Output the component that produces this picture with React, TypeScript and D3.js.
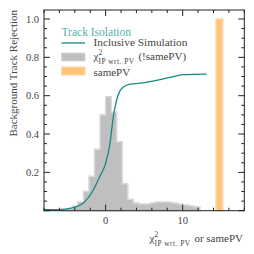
import React from "react";
import * as d3 from "d3";

const binWidth = 0.72;
const binStartIndex = -8;
const histValues = [
  0.006, 0.01, 0.025, 0.045, 0.1, 0.18, 0.32, 0.5, 0.595, 0.515, 0.36, 0.14, 0.06,
  0.04, 0.035, 0.035, 0.04, 0.045, 0.045, 0.045, 0.04, 0.035, 0.03, 0.025, 0.02,
];
const samePVBin = [14.33, 15.2];
const samePVValue = 1.0;
const curveX = [-8, -6, -5, -4.2, -2.9, -1.6, -0.74, 0, 0.56, 1.0, 1.43, 1.86, 2.3, 3.2, 4.45, 6.6, 8.8, 10.1, 13.1];
const curveY = [0.005, 0.006, 0.01, 0.016, 0.04, 0.108, 0.18, 0.247, 0.35, 0.49, 0.578, 0.625, 0.645, 0.66, 0.665, 0.68, 0.7, 0.71, 0.713];
const xMajor = [0, 10];
const xMinorStep = 2;
const yMajor = [0, 0.2, 0.4, 0.6, 0.8, 1.0];
const yLabels = ["", "0.2", "0.4", "0.6", "0.8", "1.0"];
const yMinorStep = 0.05;

const FONT = "'Liberation Serif', 'DejaVu Serif', serif";
const TEXT = "#444";

function ChiLabel({ x, y, suffix, anchor }: { x: number; y: number; suffix: string; anchor?: string }) {
  return (
    <text x={x} y={y} fontSize={11} textAnchor={anchor || "start"} fill={TEXT}>
      <tspan>χ</tspan>
      <tspan fontSize={7.5} dy={-5}>2</tspan>
      <tspan fontSize={7.5} dx={-3.6} dy={8.5} letterSpacing={0.45}>IP wrt. PV</tspan>
      <tspan dy={-3.5} dx={1}>{suffix}</tspan>
    </text>
  );
}

export default function App() {
  const L = 44, R = 244.3, T = 10, B = 210.7;
  const x = d3.scaleLinear().domain([-8, 18]).range([L, R]);
  const y = d3.scaleLinear().domain([0, 1.047]).range([B, T]);

  const pts: [number, number][] = [];
  histValues.forEach((v, i) => {
    const x0 = (binStartIndex + i) * binWidth;
    const x1 = x0 + binWidth;
    pts.push([x0, v], [x1, v]);
  });
  const area = d3
    .area<[number, number]>()
    .x((d) => x(d[0]))
    .y0(y(0))
    .y1((d) => y(d[1]));
  const histPath = area(pts);

  const line = d3
    .line<number>()
    .x((_, i) => x(curveX[i]))
    .y((d) => y(d))
    .curve(d3.curveMonotoneX);
  const curvePath = line(curveY);

  const xMinor = d3.range(-8, 18.01, xMinorStep).filter((v) => !xMajor.includes(v));
  const yMinor = d3
    .range(0, 1.05, yMinorStep)
    .map((v) => +v.toFixed(2))
    .filter((v) => !yMajor.some((m) => Math.abs(m - v) < 1e-6));

  const maj = 6, mn = 3;

  return (
    <svg width={254} height={254} style={{ position: "absolute", left: 0, top: 0 }} fontFamily={FONT}>
      <rect width={254} height={254} fill="white" />
      <path d={histPath || ""} fill="#bfbfbf" stroke="#d9d9d9" strokeWidth={1.5} />
      <rect
        x={x(samePVBin[0])}
        y={y(samePVValue)}
        width={x(samePVBin[1]) - x(samePVBin[0])}
        height={y(0) - y(samePVValue)}
        fill="#ffc47c"
        stroke="#ffd8a6"
        strokeWidth={1.5}
      />
      <path d={curvePath || ""} fill="none" stroke="#138a80" strokeWidth={1.3} />

      <rect x={L} y={T} width={R - L} height={B - T} fill="none" stroke="#222" strokeWidth={1} />

      {xMajor.map((v) => (
        <g key={"xm" + v}>
          <line x1={x(v)} x2={x(v)} y1={B} y2={B - maj} stroke="#222" />
          <line x1={x(v)} x2={x(v)} y1={T} y2={T + maj} stroke="#222" />
          <text x={x(v)} y={224} fontSize={10.5} textAnchor="middle" fill={TEXT}>
            {v}
          </text>
        </g>
      ))}
      {xMinor.map((v) => (
        <g key={"xn" + v}>
          <line x1={x(v)} x2={x(v)} y1={B} y2={B - mn} stroke="#222" />
          <line x1={x(v)} x2={x(v)} y1={T} y2={T + mn} stroke="#222" />
        </g>
      ))}
      {yMajor.map((v, i) => (
        <g key={"ym" + v}>
          <line x1={L} x2={L + maj} y1={y(v)} y2={y(v)} stroke="#222" />
          <line x1={R} x2={R - maj} y1={y(v)} y2={y(v)} stroke="#222" />
          <text x={39} y={y(v) + 3.5} fontSize={10.5} textAnchor="end" fill={TEXT}>
            {yLabels[i]}
          </text>
        </g>
      ))}
      {yMinor.map((v) => (
        <g key={"yn" + v}>
          <line x1={L} x2={L + mn} y1={y(v)} y2={y(v)} stroke="#222" />
          <line x1={R} x2={R - mn} y1={y(v)} y2={y(v)} stroke="#222" />
        </g>
      ))}

      <text
        transform={`translate(17,${T}) rotate(-90)`}
        fontSize={11}
        textAnchor="end"
        fill={TEXT}
      >
        Background Track Rejection
      </text>
      <ChiLabel x={243} y={242} suffix=" or samePV" anchor="end" />

      <text x={61.5} y={35.5} fontSize={11.5} fill="#4fb3a8">
        Track Isolation
      </text>
      <line x1={61.5} x2={85} y1={43} y2={43} stroke="#138a80" strokeWidth={1.3} />
      <text x={93.5} y={45.5} fontSize={11.3} fill={TEXT}>
        Inclusive Simulation
      </text>
      <rect x={61.5} y={53} width={23.5} height={8} fill="#bfbfbf" stroke="#d9d9d9" strokeWidth={1} />
      <ChiLabel x={93.5} y={60} suffix=" (!samePV)" />
      <rect x={61.5} y={67} width={23.5} height={8} fill="#ffc47c" stroke="#ffd8a6" strokeWidth={1} />
      <text x={93.5} y={75.5} fontSize={11} fill={TEXT}>
        samePV
      </text>
    </svg>
  );
}
